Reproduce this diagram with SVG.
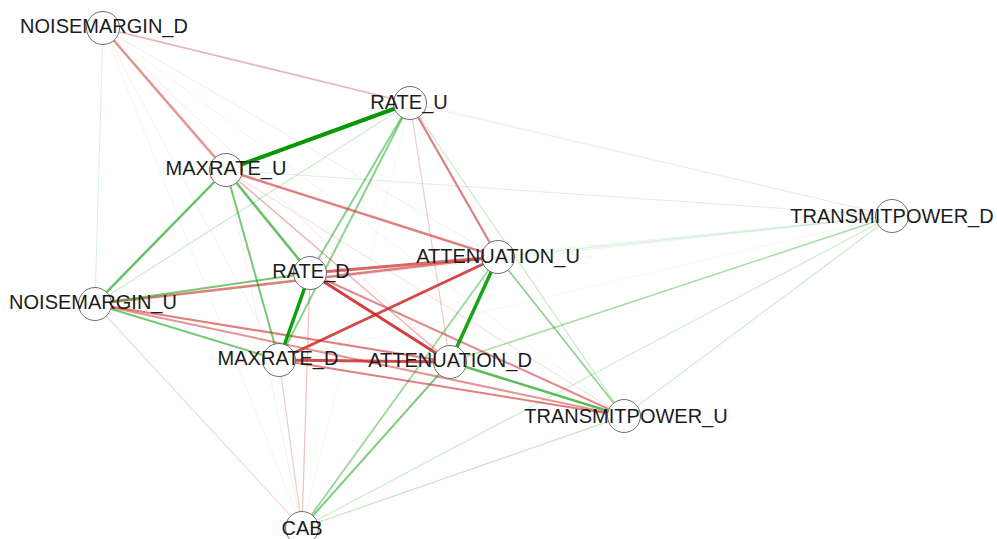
<svg xmlns="http://www.w3.org/2000/svg" width="997" height="539" viewBox="0 0 997 539">
  <style>
    .pos { stroke: #009a00; fill: none; stroke-linecap: round; }
    .neg { stroke: #cc2a2a; fill: none; stroke-linecap: round; }
    .node circle { fill: #ffffff; stroke: #6e6e6e; stroke-width: 1; }
    .node text { font-family: "Liberation Sans", Arial, sans-serif; font-size: 20px; fill: #1c1c1c; text-anchor: middle; }
  </style>
  <rect width="997" height="539" fill="#ffffff"/>

  <g id="edges">
    <!-- very faint associations -->
    <line class="neg" x1="103" y1="28" x2="498" y2="257" stroke-width="1" stroke-opacity="0.1"/>
    <line class="neg" x1="103" y1="28" x2="450" y2="362" stroke-width="1" stroke-opacity="0.1"/>
    <line class="neg" x1="103" y1="28" x2="310" y2="273" stroke-width="1" stroke-opacity="0.1"/>
    <line class="neg" x1="103" y1="28" x2="279" y2="360" stroke-width="1" stroke-opacity="0.08"/>
    <line class="pos" x1="103" y1="28" x2="624" y2="416" stroke-width="1" stroke-opacity="0.07"/>
    <line class="pos" x1="103" y1="28" x2="892" y2="216" stroke-width="1" stroke-opacity="0.05"/>
    <line class="neg" x1="103" y1="28" x2="302" y2="528" stroke-width="1" stroke-opacity="0.06"/>
    <line class="pos" x1="103" y1="28" x2="95" y2="304" stroke-width="1" stroke-opacity="0.15"/>
    <line class="neg" x1="410" y1="103" x2="892" y2="216" stroke-width="1" stroke-opacity="0.12"/>
    <line class="pos" x1="410" y1="103" x2="302" y2="528" stroke-width="1" stroke-opacity="0.06"/>
    <line class="neg" x1="226" y1="170" x2="302" y2="528" stroke-width="1" stroke-opacity="0.08"/>
    <line class="neg" x1="226" y1="170" x2="624" y2="416" stroke-width="1" stroke-opacity="0.18"/>
    <line class="pos" x1="226" y1="170" x2="892" y2="216" stroke-width="1" stroke-opacity="0.15"/>
    <line class="pos" x1="95" y1="304" x2="892" y2="216" stroke-width="1" stroke-opacity="0.1"/>
    <line class="pos" x1="310" y1="273" x2="892" y2="216" stroke-width="1" stroke-opacity="0.08"/>
    <line class="pos" x1="279" y1="360" x2="892" y2="216" stroke-width="1" stroke-opacity="0.06"/>
    <line class="pos" x1="498" y1="257" x2="892" y2="216" stroke-width="1.2" stroke-opacity="0.15"/>
    <line class="pos" x1="624" y1="416" x2="892" y2="216" stroke-width="1.2" stroke-opacity="0.2"/>
    <line class="pos" x1="302" y1="528" x2="892" y2="216" stroke-width="1.2" stroke-opacity="0.2"/>
    <line class="pos" x1="410" y1="103" x2="624" y2="416" stroke-width="1.2" stroke-opacity="0.22"/>
    <line class="pos" x1="410" y1="103" x2="95" y2="304" stroke-width="1.2" stroke-opacity="0.2"/>
    <line class="neg" x1="410" y1="103" x2="450" y2="362" stroke-width="1.2" stroke-opacity="0.25"/>
    <line class="pos" x1="302" y1="528" x2="624" y2="416" stroke-width="1.2" stroke-opacity="0.25"/>
    <line class="neg" x1="302" y1="528" x2="95" y2="304" stroke-width="1.2" stroke-opacity="0.18"/>
    <line class="neg" x1="302" y1="528" x2="279" y2="360" stroke-width="1.2" stroke-opacity="0.25"/>
    <line class="neg" x1="302" y1="528" x2="310" y2="273" stroke-width="1.2" stroke-opacity="0.3"/>

    <!-- light to medium associations -->
    <line class="neg" x1="103" y1="28" x2="410" y2="103" stroke-width="1.8" stroke-opacity="0.35"/>
    <line class="neg" x1="226" y1="170" x2="450" y2="362" stroke-width="1.5" stroke-opacity="0.35"/>
    <line class="pos" x1="892" y1="216" x2="450" y2="362" stroke-width="1.5" stroke-opacity="0.35"/>
    <line class="pos" x1="498" y1="257" x2="624" y2="416" stroke-width="1.6" stroke-opacity="0.45"/>
    <line class="pos" x1="498" y1="257" x2="302" y2="528" stroke-width="1.8" stroke-opacity="0.4"/>
    <line class="pos" x1="450" y1="362" x2="302" y2="528" stroke-width="2" stroke-opacity="0.5"/>
    <line class="pos" x1="410" y1="103" x2="310" y2="273" stroke-width="2" stroke-opacity="0.45"/>
    <line class="pos" x1="410" y1="103" x2="279" y2="360" stroke-width="2" stroke-opacity="0.45"/>
    <line class="neg" x1="103" y1="28" x2="226" y2="170" stroke-width="2.5" stroke-opacity="0.5"/>
    <line class="neg" x1="410" y1="103" x2="498" y2="257" stroke-width="2.2" stroke-opacity="0.6"/>
    <line class="neg" x1="226" y1="170" x2="498" y2="257" stroke-width="2.5" stroke-opacity="0.6"/>
    <line class="neg" x1="95" y1="304" x2="624" y2="416" stroke-width="2" stroke-opacity="0.5"/>
    <line class="neg" x1="310" y1="273" x2="624" y2="416" stroke-width="2" stroke-opacity="0.55"/>
    <line class="neg" x1="279" y1="360" x2="624" y2="416" stroke-width="2" stroke-opacity="0.6"/>
    <line class="neg" x1="95" y1="304" x2="450" y2="362" stroke-width="2.2" stroke-opacity="0.6"/>
    <line class="neg" x1="95" y1="304" x2="498" y2="257" stroke-width="2.5" stroke-opacity="0.6"/>
    <line class="pos" x1="226" y1="170" x2="95" y2="304" stroke-width="2.5" stroke-opacity="0.6"/>
    <line class="pos" x1="226" y1="170" x2="310" y2="273" stroke-width="2.5" stroke-opacity="0.6"/>
    <line class="pos" x1="226" y1="170" x2="279" y2="360" stroke-width="2" stroke-opacity="0.55"/>
    <line class="pos" x1="95" y1="304" x2="310" y2="273" stroke-width="2" stroke-opacity="0.55"/>
    <line class="pos" x1="95" y1="304" x2="279" y2="360" stroke-width="2" stroke-opacity="0.55"/>
    <line class="pos" x1="450" y1="362" x2="624" y2="416" stroke-width="2.5" stroke-opacity="0.65"/>

    <!-- strong associations -->
    <line class="neg" x1="310" y1="273" x2="498" y2="257" stroke-width="2.8" stroke-opacity="0.7"/>
    <line class="neg" x1="279" y1="360" x2="450" y2="362" stroke-width="3" stroke-opacity="0.85"/>
    <line class="neg" x1="279" y1="360" x2="498" y2="257" stroke-width="3" stroke-opacity="0.85"/>
    <line class="neg" x1="310" y1="273" x2="450" y2="362" stroke-width="3" stroke-opacity="0.9"/>
    <line class="pos" x1="498" y1="257" x2="450" y2="362" stroke-width="3.5" stroke-opacity="0.9"/>
    <line class="pos" x1="310" y1="273" x2="279" y2="360" stroke-width="3.5" stroke-opacity="0.95"/>
    <line class="pos" x1="410" y1="103" x2="226" y2="170" stroke-width="4" stroke-opacity="1"/>
  </g>

  <g id="NOISEMARGIN_D" class="node"><circle cx="103" cy="28" r="16.5"/><text x="104" y="33">NOISEMARGIN_D</text></g>
  <g id="RATE_U" class="node"><circle cx="410" cy="103" r="16.5"/><text x="409" y="109">RATE_U</text></g>
  <g id="MAXRATE_U" class="node"><circle cx="226" cy="170" r="16.5"/><text x="226" y="175">MAXRATE_U</text></g>
  <g id="TRANSMITPOWER_D" class="node"><circle cx="892" cy="216" r="16.5"/><text x="892" y="223">TRANSMITPOWER_D</text></g>
  <g id="ATTENUATION_U" class="node"><circle cx="498" cy="257" r="16.5"/><text x="498" y="263">ATTENUATION_U</text></g>
  <g id="RATE_D" class="node"><circle cx="310" cy="273" r="16.5"/><text x="311" y="278">RATE_D</text></g>
  <g id="NOISEMARGIN_U" class="node"><circle cx="95" cy="304" r="16.5"/><text x="93" y="309">NOISEMARGIN_U</text></g>
  <g id="MAXRATE_D" class="node"><circle cx="279" cy="360" r="16.5"/><text x="278" y="365">MAXRATE_D</text></g>
  <g id="ATTENUATION_D" class="node"><circle cx="450" cy="362" r="16.5"/><text x="450" y="367">ATTENUATION_D</text></g>
  <g id="TRANSMITPOWER_U" class="node"><circle cx="624" cy="416" r="16.5"/><text x="626" y="423">TRANSMITPOWER_U</text></g>
  <g id="CAB" class="node"><circle cx="302" cy="528" r="16.5"/><text x="302" y="535">CAB</text></g>
</svg>
